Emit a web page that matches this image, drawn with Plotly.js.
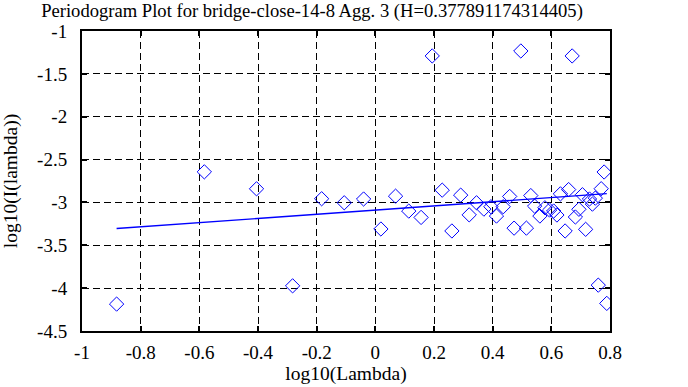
<!DOCTYPE html>
<html>
<head>
<meta charset="utf-8">
<script src="https://cdn.plot.ly/plotly-3.0.1.min.js"></script>
<style>
html,body{margin:0;padding:0;background:#fff;}
#chart{width:688px;height:387px;}
</style>
</head>
<body>
<div id="chart"></div>
<script>
// log10(Lambda) values of the periodogram points
const logLambda = [
  -0.882, -0.583, -0.405, -0.282, -0.183, -0.106, -0.040, 0.019, 0.069, 0.114,
  0.156, 0.194, 0.228, 0.261, 0.291, 0.320, 0.345, 0.370, 0.394, 0.413,
  0.436, 0.458, 0.473, 0.496, 0.515, 0.530, 0.543, 0.561, 0.578, 0.594,
  0.608, 0.619, 0.631, 0.647, 0.659, 0.671, 0.682, 0.694, 0.706, 0.717,
  0.730, 0.740, 0.750, 0.760, 0.770, 0.780, 0.789
];
// log10(I(lambda)) values
const logI = [
  -4.186, -2.643, -2.841, -3.973, -2.957, -3.004, -2.960, -3.310, -2.927, -3.101,
  -3.175, -1.291, -2.857, -3.333, -2.915, -3.145, -3.004, -3.078, -3.050, -3.159,
  -3.050, -2.930, -3.300, -1.233, -3.300, -2.920, -3.043, -3.159, -3.062, -3.089,
  -3.100, -3.147, -2.900, -3.333, -2.850, -1.291, -3.170, -3.080, -2.910, -3.314,
  -2.960, -3.020, -2.950, -3.965, -2.840, -2.645, -4.178
];
// least-squares fit line endpoints
const fitX = [-0.882, 0.789];
const fitY = [-3.305, -2.897];

const xTickVals = [-1, -0.8, -0.6, -0.4, -0.2, 0, 0.2, 0.4, 0.6, 0.8];
const xTickText = ['-1', '-0.8', '-0.6', '-0.4', '-0.2', '0', '0.2', '0.4', '0.6', '0.8'];
const yTickVals = [-1, -1.5, -2, -2.5, -3, -3.5, -4, -4.5];
const yTickText = ['-1', '-1.5', '-2', '-2.5', '-3', '-3.5', '-4', '-4.5'];

const titleText = 'Periodogram Plot for bridge-close-14-8 Agg. 3 (H=0.377891174314405)';
const xTitle = 'log10(Lambda)';
const yTitle = 'log10(I(lambda))';

const FONT = "'Liberation Serif', serif";

const traces = [
  {
    x: logLambda, y: logI, type: 'scatter', mode: 'markers',
    marker: {symbol: 'diamond-open', size: 11, color: '#0000ff', line: {width: 1, color: '#0000ff'}},
    hoverinfo: 'skip'
  },
  {
    x: fitX, y: fitY, type: 'scatter', mode: 'lines',
    line: {color: '#0000ff', width: 1.4},
    hoverinfo: 'skip'
  }
];

const axisCommon = {
  showline: true, linecolor: '#000', linewidth: 2, mirror: 'ticks',
  ticks: 'inside', ticklen: 5, tickwidth: 2, tickcolor: '#000',
  showgrid: true, gridcolor: '#000', gridwidth: 1, griddash: '7px,4px',
  zeroline: false, tickmode: 'array',
  tickfont: {family: FONT, size: 19, color: '#000'}
};

const layout = {
  width: 688, height: 387,
  margin: {l: 82, r: 78, t: 31, b: 56, pad: 0},
  paper_bgcolor: '#fff', plot_bgcolor: '#fff',
  showlegend: false,
  font: {family: FONT, color: '#000'},
  title: {
    text: titleText, font: {family: FONT, size: 18.6, color: '#000'},
    x: 0.4535, xref: 'container', xanchor: 'center',
    y: 0.972, yref: 'container', yanchor: 'middle'
  },
  xaxis: Object.assign({}, axisCommon, {
    range: [-1, 0.8], tickvals: xTickVals, ticktext: xTickText,
    ticklabelstandoff: 3,
    title: {text: xTitle, font: {family: FONT, size: 19.5, color: '#000'}, standoff: 4}
  }),
  yaxis: Object.assign({}, axisCommon, {
    range: [-4.5, -1], tickvals: yTickVals, ticktext: yTickText,
    ticklabelstandoff: 9,
    title: {text: yTitle, font: {family: FONT, size: 19.5, color: '#000'}, standoff: 14}
  })
};

Plotly.newPlot('chart', traces, layout, {staticPlot: true, displayModeBar: false});
</script>
</body>
</html>
